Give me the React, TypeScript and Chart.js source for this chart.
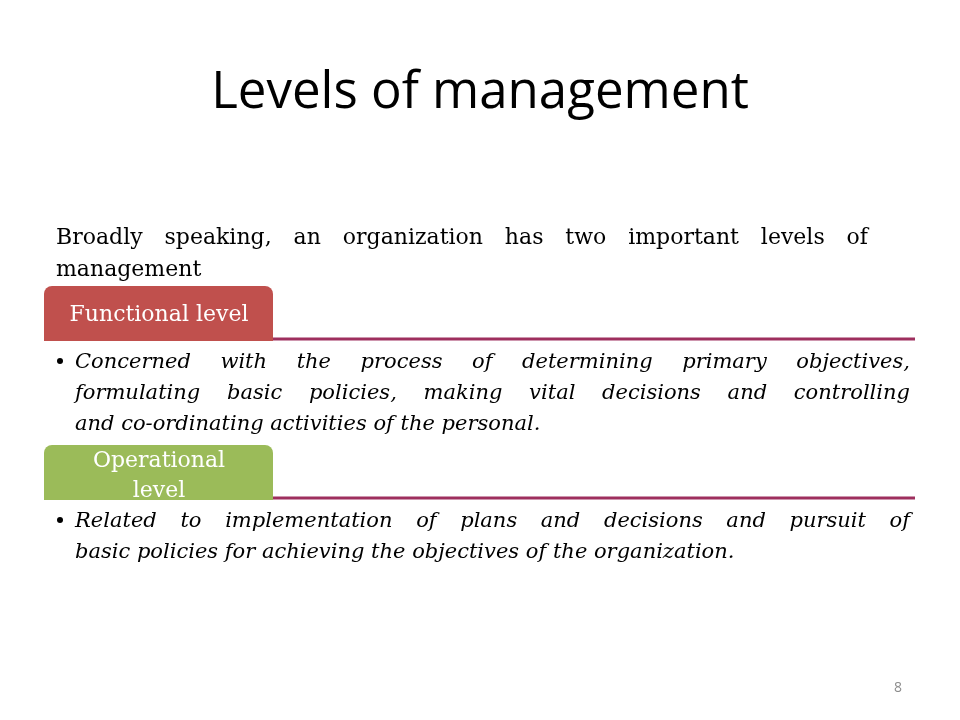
import { Chart, registerables } from 'chart.js';
import { useEffect, useRef } from 'react';

Chart.register(...registerables);

const title = 'Levels of management';
const introLines = ['Broadly speaking, an organization has two important levels of', 'management'];
const levelNames = [['Functional level'], ['Operational', 'level']];
const levelColors = ['#C0504D', '#9BBB59'];
const levelText = [
  [
    'Concerned with the process of determining primary objectives,',
    'formulating basic policies, making vital decisions and controlling',
    'and co-ordinating activities of the personal.',
  ],
  [
    'Related to implementation of plans and decisions and pursuit of',
    'basic policies for achieving the objectives of the organization.',
  ],
];
const pageNumber = '8';

const justify = (ctx: CanvasRenderingContext2D, line: string, x: number, y: number, w: number, full: boolean) => {
  if (!full) {
    ctx.fillText(line, x, y);
    return;
  }
  const words = line.split(' ');
  const total = words.reduce((s, wd) => s + ctx.measureText(wd).width, 0);
  const gap = (w - total) / (words.length - 1);
  let cx = x;
  words.forEach((wd) => {
    ctx.fillText(wd, cx, y);
    cx += ctx.measureText(wd).width + gap;
  });
};

const slidePlugin = {
  id: 'slide',
  afterDraw(chart: Chart) {
    const ctx = chart.ctx;
    ctx.save();
    ctx.fillStyle = '#000';
    ctx.textAlign = 'center';
    ctx.textBaseline = 'alphabetic';
    ctx.font = '51px "Open Sans"';
    ctx.fillText(title, 480, 108);

    ctx.textAlign = 'left';
    ctx.font = '22px "DejaVu Serif"';
    introLines.forEach((l, i) => justify(ctx, l, 56, 244 + i * 32, 812, i < introLines.length - 1));

    const boxTops = [286, 445];
    boxTops.forEach((top, k) => {
      const h = 55;
      ctx.fillStyle = levelColors[k];
      ctx.beginPath();
      ctx.roundRect(44, top, 229, h, [8, 8, 0, 0]);
      ctx.fill();
      ctx.strokeStyle = '#9E2F5E';
      ctx.lineWidth = 3;
      ctx.beginPath();
      ctx.moveTo(273, top + h - 2);
      ctx.lineTo(915, top + h - 2);
      ctx.stroke();
      ctx.fillStyle = '#fff';
      ctx.textAlign = 'center';
      ctx.font = '22px "DejaVu Serif"';
      const names = levelNames[k];
      names.forEach((n, i) => {
        const y = names.length === 1 ? top + 35 : top + 22 + i * 30;
        ctx.fillText(n, 159, y);
      });
      ctx.fillStyle = '#000';
      ctx.textAlign = 'left';
      ctx.font = 'italic 21px "DejaVu Serif"';
      const lines = levelText[k];
      const y0 = top + h + 27;
      ctx.beginPath();
      ctx.arc(60, y0 - 7, 3, 0, Math.PI * 2);
      ctx.fill();
      lines.forEach((l, i) => justify(ctx, l, 75, y0 + i * 31, 835, i < lines.length - 1));
    });

    ctx.fillStyle = '#8c8c8c';
    ctx.font = '14px "Open Sans"';
    ctx.textAlign = 'center';
    ctx.fillText(pageNumber, 898, 692);
    ctx.restore();
  },
};

const App = () => {
  const ref = useRef<HTMLCanvasElement>(null);
  useEffect(() => {
    document.body.style.margin = '0';
    const ctx = ref.current?.getContext('2d');
    if (!ctx) return;
    const chart = new Chart(ctx, {
      type: 'bar',
      data: { labels: [], datasets: [] },
      options: {
        responsive: false,
        animation: false,
        plugins: { legend: { display: false }, tooltip: { enabled: false } },
        scales: { x: { display: false }, y: { display: false } },
      },
      plugins: [slidePlugin],
    });
    return () => chart.destroy();
  }, []);
  return <canvas ref={ref} width={960} height={720} style={{ display: 'block', background: '#fff' }} />;
};

export default App;
